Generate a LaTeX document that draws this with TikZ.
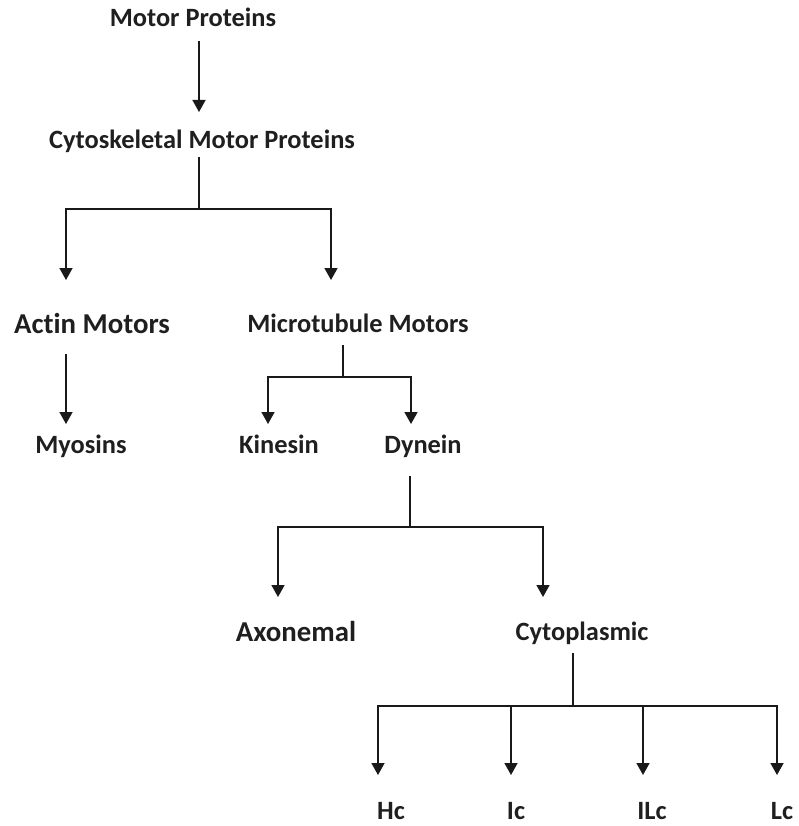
\documentclass[tikz,border=0pt]{standalone}
\usepackage{fontspec}
\setmainfont{Carlito}[Ligatures=NoCommon]
\usetikzlibrary{arrows.meta,calc}
\tikzset{
  lbl/.style={inner sep=0pt, outer sep=0pt, anchor=center, text height=17pt, text depth=0pt,
    font=\fontsize{26.4}{30}\selectfont\bfseries, text=black!88},
  biglbl/.style={lbl, text height=18.5pt, font=\fontsize{28.8}{32}\selectfont\bfseries},
  ln/.style={line width=1.6pt, draw=black!90},
  arr/.style={ln, -{Triangle[width=13pt,length=12pt]}}
}
\begin{document}
\begin{tikzpicture}[x=1pt,y=-1pt]
\useasboundingbox[fill=white] (0,0) rectangle (799,826);
% nodes
\node[lbl] (mp) at (193,18) {Motor Proteins};
\node[lbl] (cmp) at (202,140) {Cytoskeletal Motor Proteins};
\node[biglbl] (am) at (92,324) {Actin Motors};
\node[lbl] (mm) at (358,324) {Microtubule Motors};
\node[lbl] (my) at (81,445) {Myosins};
\node[lbl] (ki) at (279,445) {Kinesin};
\node[lbl] (dy) at (423,445) {Dynein};
\node[biglbl] (ax) at (296,632) {Axonemal};
\node[lbl] (cy) at (582,632) {Cytoplasmic};
\node[lbl] (hc) at (391,811) {Hc};
\node[lbl] (ic) at (516,811) {Ic};
\node[lbl] (ilc) at (652,811) {ILc};
\node[lbl] (lc) at (782,811) {Lc};
% connectors
\draw[arr] ($(mp.south)+(6,14.5)$) -- ($(cmp.north)+(-3,-19.5)$);
\draw[ln] ($(cmp.south)+(-3,8.5)$) -- ++(0,52) coordinate (j1);
\draw[arr] (j1) -| ($(am.north)+(-26,-34.75)$);
\draw[arr] (j1) -| ($(mm.north)+(-27,-35.5)$);
\draw[arr] ($(am.south)+(-26,20.75)$) -- ($(my.north)+(-15,-12.5)$);
\draw[ln] ($(mm.south)+(-15,12.5)$) -- ++(0,32) coordinate (j2);
\draw[arr] (j2) -| ($(ki.north)+(-11,-12.5)$);
\draw[arr] (j2) -| ($(dy.north)+(-12,-12.5)$);
\draw[ln] ($(dy.south)+(-13,22.5)$) -- ++(0,51) coordinate (j3);
\draw[arr] (j3) -| ($(ax.north)+(-18,-25.75)$);
\draw[arr] (j3) -| ($(cy.north)+(-39,-26.5)$);
\draw[ln] ($(cy.south)+(-9,12.5)$) -- ++(0,53) coordinate (j4);
\draw[arr] (j4) -| ($(hc.north)+(-13,-27.5)$);
\draw[arr] (j4) -| ($(ic.north)+(-5,-27.5)$);
\draw[arr] (j4) -| ($(ilc.north)+(-9,-27.5)$);
\draw[arr] (j4) -| ($(lc.north)+(-5,-27.5)$);
\end{tikzpicture}
\end{document}
